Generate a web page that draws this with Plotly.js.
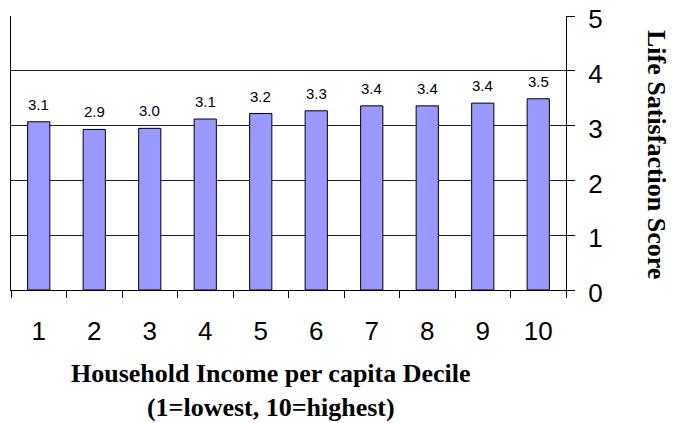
<!DOCTYPE html>
<html>
<head>
<meta charset="utf-8">
<script src="https://cdn.plot.ly/plotly-3.0.1.min.js"></script>
<style>html,body{margin:0;padding:0;background:#fff;}#chart{width:673px;height:423px;}</style>
</head>
<body>
<div id="chart"></div>
<script>
const deciles = ["1","2","3","4","5","6","7","8","9","10"];
const scores = [3.07, 2.93, 2.95, 3.12, 3.22, 3.27, 3.36, 3.36, 3.41, 3.49];
const scoreLabels = ["3.1","2.9","3.0","3.1","3.2","3.3","3.4","3.4","3.4","3.5"];
const yTicks = [0, 1, 2, 3, 4, 5];

const sans = "Liberation Sans, Arial, sans-serif";
const serif = "Liberation Serif, Times New Roman, serif";

const trace = {
  type: "bar",
  x: deciles,
  y: scores,
  marker: {color: "#9999FF", line: {color: "#000000", width: 1}},
  hoverinfo: "none"
};

const annotations = deciles.map((d, i) => ({
  x: i, y: scores[i], xref: "x", yref: "y",
  text: scoreLabels[i], showarrow: false,
  yanchor: "bottom", yshift: 7,
  font: {family: sans, size: 15, color: "#000"}
}));

annotations.push({
  xref: "paper", yref: "paper", x: 1.162, y: 0.493,
  text: "<b>Life Satisfaction Score</b>", showarrow: false,
  textangle: 90, xanchor: "center", yanchor: "middle",
  font: {family: serif, size: 26, color: "#000"}
});
annotations.push({
  xref: "paper", yref: "paper", x: 0.468, y: -0.368,
  text: "<b>Household Income per capita Decile<br>(1=lowest, 10=highest)</b>", showarrow: false,
  xanchor: "center", yanchor: "middle",
  font: {family: serif, size: 26, color: "#000"}
});

const layout = {
  width: 673, height: 423,
  margin: {l: 11, r: 107, t: 16, b: 133},
  paper_bgcolor: "#ffffff", plot_bgcolor: "#ffffff",
  showlegend: false,
  bargap: 0.6,
  xaxis: {
    type: "category",
    range: [-0.5, 9.5],
    tickson: "boundaries",
    ticks: "outside", ticklen: 7, tickcolor: "#000", tickwidth: 1,
    showline: true, linecolor: "#000", linewidth: 1,
    showgrid: false, zeroline: false,
    ticklabelstandoff: 18,
    tickfont: {family: sans, size: 26, color: "#000"}
  },
  yaxis: {
    side: "right",
    range: [0, 5],
    tickvals: yTicks,
    ticks: "outside", ticklen: 8, tickcolor: "#000", tickwidth: 1,
    showline: true, linecolor: "#000", linewidth: 1, mirror: true,
    showgrid: true, gridcolor: "#222", gridwidth: 1,
    zeroline: false,
    ticklabelstandoff: 8,
    ticklabelshift: 3,
    tickfont: {family: sans, size: 26, color: "#000"}
  },
  annotations: annotations
};

Plotly.newPlot("chart", [trace], layout, {staticPlot: true});
</script>
</body>
</html>
